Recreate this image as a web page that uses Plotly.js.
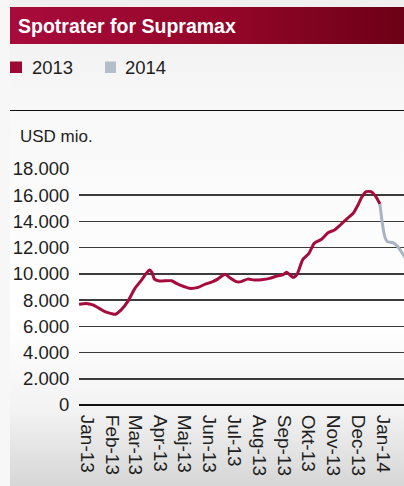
<!DOCTYPE html>
<html>
<head>
<meta charset="utf-8">
<script src="https://cdn.plot.ly/plotly-3.0.1.min.js"></script>
<style>
  html, body { margin: 0; padding: 0; width: 404px; height: 486px; overflow: hidden; background: #f7f7f7; }
  #panel { position: absolute; left: 10px; top: 0; width: 394px; height: 486px;
    background: linear-gradient(to bottom, #efefef 0px, #f8f8f8 110px, #ffffff 320px, #f3f3f3 410px, #d6d6d6 486px); }
  #bar { position: absolute; left: 10px; top: 7px; width: 394px; height: 37px;
    background: linear-gradient(to right, #a80b3b 0%, #940629 55%, #6c0015 100%); }
  #rule { position: absolute; left: 10px; top: 110px; width: 394px; height: 1px; background: #111; }
  #chart { position: absolute; left: 0; top: 0; width: 404px; height: 486px; }
</style>
</head>
<body>
<div id="panel"></div>
<div id="bar"></div>
<div id="rule"></div>
<div id="chart"></div>
<script>
// Series 2013 (USD)
const dates2013 = [
  '2013-01-01','2013-01-10','2013-01-18','2013-01-26','2013-02-02','2013-02-10','2013-02-15','2013-02-22',
  '2013-03-02','2013-03-11','2013-03-19','2013-03-25','2013-03-29','2013-04-01','2013-04-04','2013-04-10',
  '2013-04-25','2013-05-01','2013-05-11','2013-05-17','2013-05-28','2013-06-05','2013-06-15','2013-06-21',
  '2013-06-30','2013-07-06','2013-07-14','2013-07-20','2013-07-28','2013-08-05','2013-08-14','2013-08-24',
  '2013-09-03','2013-09-09','2013-09-14','2013-09-22','2013-09-27','2013-10-04','2013-10-11','2013-10-18',
  '2013-10-27','2013-11-04','2013-11-12','2013-11-20','2013-11-28','2013-12-05','2013-12-11','2013-12-16',
  '2013-12-21','2013-12-27','2014-01-02','2014-01-07'
];
const values2013 = [
  7680,7750,7630,7370,7120,6970,6920,7250,
  7880,8900,9530,10050,10300,10100,9600,9460,
  9480,9280,9020,8900,8970,9200,9410,9600,
  9970,9710,9410,9410,9600,9530,9560,9660,
  9860,9920,10120,9740,9990,11110,11520,12330,
  12640,13140,13350,13780,14240,14620,15260,15890,
  16270,16270,15890,15330
];
// Series 2014
const dates2014 = ['2014-01-07','2014-01-10','2014-01-13','2014-01-16','2014-01-23','2014-01-29','2014-02-05','2014-02-10'];
const values2014 = [15330,13860,12840,12460,12380,12080,11440,11000];

// Axis labels
const tickDates = ['2013-01-11','2013-02-11','2013-03-11','2013-04-11','2013-05-11','2013-06-11','2013-07-11',
                   '2013-08-11','2013-09-11','2013-10-11','2013-11-11','2013-12-11','2014-01-11'];
const tickLabels = ['Jan-13','Feb-13','Mar-13','Apr-13','Maj-13','Jun-13','Jul-13',
                    'Aug-13','Sep-13','Okt-13','Nov-13','Dec-13','Jan-14'];
const seriesNames = ['2013','2014'];
const lineColors = ['#a50b3b','#a9b4c3'];
const legendColors = ['#9c0a33','#b4bdca'];

const font = 'Liberation Sans, Arial, sans-serif';
const textColor = '#1e1e1e';
const traces = [
  {x: dates2013, y: values2013, type: 'scatter', mode: 'lines', name: seriesNames[0],
   line: {color: lineColors[0], width: 3, shape: 'spline', smoothing: 0.6}},
  {x: dates2014, y: values2014, type: 'scatter', mode: 'lines', name: seriesNames[1],
   line: {color: lineColors[1], width: 3, shape: 'spline', smoothing: 0.6}}
];

// legend drawn manually (paper coordinates)
const px = v => (v - 79) / 325;
const py = v => (405 - v) / 236;
const legendBoxes = [[10, 22], [105, 116]];
const legendTextX = [30, 123];
const shapes = [];
const annotations = [{text: 'USD mio.', xref: 'paper', yref: 'paper', x: px(18), y: py(136),
                 xanchor: 'left', yanchor: 'middle', showarrow: false,
                 font: {family: font, size: 17, color: textColor}}];
seriesNames.forEach((n, i) => {
  shapes.push({type: 'rect', xref: 'paper', yref: 'paper', x0: px(legendBoxes[i][0]), x1: px(legendBoxes[i][1]),
               y0: py(73), y1: py(61.5), fillcolor: legendColors[i], line: {width: 0}});
  annotations.push({text: n, xref: 'paper', yref: 'paper', x: px(legendTextX[i]), y: py(67),
                    xanchor: 'left', yanchor: 'middle', showarrow: false,
                    font: {family: font, size: 18.5, color: textColor}});
});

const layout = {
  width: 404, height: 486,
  margin: {l: 79, r: 0, t: 169, b: 81, pad: 0},
  paper_bgcolor: 'rgba(0,0,0,0)', plot_bgcolor: 'rgba(0,0,0,0)',
  separators: ',.',
  font: {family: font, size: 18, color: textColor},
  title: {text: 'Spotrater for Supramax', xref: 'container', yref: 'container',
          x: 18/404, xanchor: 'left', y: 1 - 26/486, yanchor: 'middle',
          font: {family: font, size: 19.5, color: '#ffffff', weight: 'bold'}},
  showlegend: false,
  xaxis: {type: 'date', range: ['2013-01-01', '2014-02-05 17:00'], tickvals: tickDates, ticktext: tickLabels,
          tickangle: 90, showgrid: false, zeroline: false, showline: false,
          ticks: 'outside', ticklen: 5, tickcolor: 'rgba(0,0,0,0)',
          tickfont: {family: font, size: 19, color: textColor}, fixedrange: true},
  yaxis: {range: [0, 18000], dtick: 2000, tickformat: ',.0f', showgrid: true, gridcolor: '#3c3c3c', gridwidth: 1.6,
          zeroline: true, zerolinecolor: '#111', zerolinewidth: 1.8, showline: false,
          ticks: 'outside', ticklen: 5, tickcolor: 'rgba(0,0,0,0)',
          tickfont: {family: font, size: 18.5, color: textColor}, fixedrange: true},
  shapes: shapes,
  annotations: annotations
};
Plotly.newPlot('chart', traces, layout, {displayModeBar: false, staticPlot: true});
</script>
</body>
</html>
